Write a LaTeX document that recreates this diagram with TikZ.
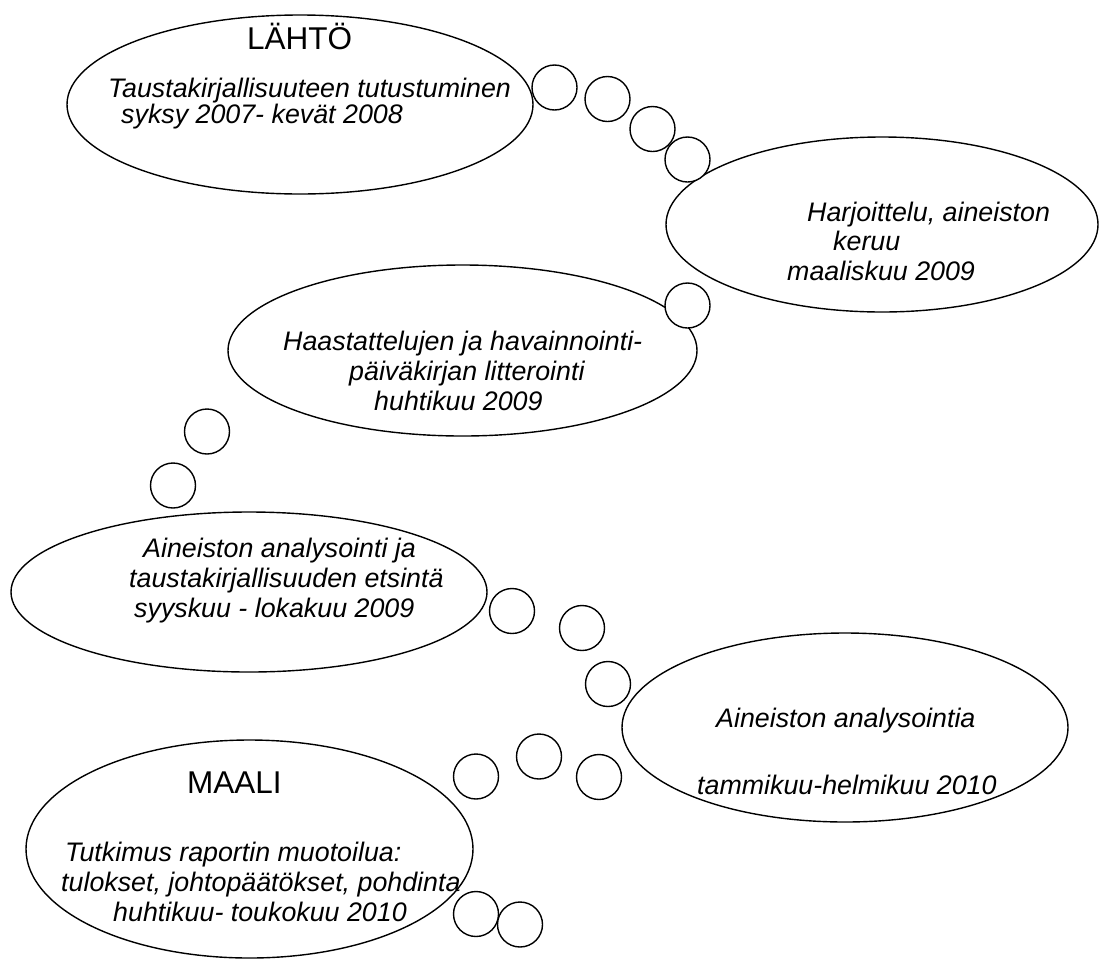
\documentclass[tikz,border=0pt]{standalone}
\usepackage{fontspec}
\setmainfont{Liberation Sans}
\usetikzlibrary{shapes.geometric}
\tikzset{
  cloudshape/.style={ellipse, draw, line width=1.4pt, fill=white, inner sep=0pt},
  puff/.style={ellipse, draw, line width=1.4pt, fill=white, inner sep=0pt,
    minimum width=45pt, minimum height=45pt},
  txt/.style={anchor=base west, inner sep=0pt, font=\fontsize{26.8}{30}\selectfont\itshape},
  bigtxt/.style={anchor=base west, inner sep=0pt, font=\fontsize{31.5}{36}\selectfont},
}
\begin{document}
\begin{tikzpicture}[x=1pt,y=-1pt]
\useasboundingbox (0,0) rectangle (1099,959);
% main ellipses
\node[cloudshape, minimum width=466pt, minimum height=179pt] (e1) at (300,104.5) {};
\node[cloudshape, minimum width=432pt, minimum height=175pt] (e2) at (882,224.5) {};
\node[cloudshape, minimum width=469pt, minimum height=171pt] (e3) at (462.5,350.5) {};
\node[cloudshape, minimum width=476pt, minimum height=160pt] (e4) at (249,592) {};
\node[cloudshape, minimum width=446pt, minimum height=189pt] (e5) at (845,727.5) {};
\node[cloudshape, minimum width=447pt, minimum height=218pt] (e6) at (249.5,849) {};
% small bubbles
\node[puff] (c1) at (554.5,87.5) {};
\node[puff] (c2) at (607.5,99) {};
\node[puff] (c3) at (652.5,129) {};
\node[puff] (c4) at (687.5,159.5) {};
\node[puff] (c5) at (687.5,305.5) {};
\node[puff] (c6) at (207,431.5) {};
\node[puff] (c7) at (173,485.5) {};
\node[puff] (c8) at (512,611) {};
\node[puff] (c9) at (582,628) {};
\node[puff] (c10) at (608,684) {};
\node[puff] (c11) at (539,756.5) {};
\node[puff] (c12) at (476,776.5) {};
\node[puff] (c13) at (599,777) {};
\node[puff] (c14) at (476,914) {};
\node[puff] (c15) at (520,924.5) {};
% texts
\node[bigtxt] (t1a) at (247,49) {LÄHTÖ};
\node[txt] (t1b) at (108,97) {Taustakirjallisuuteen tutustuminen};
\node[txt] (t1c) at (121,123) {syksy 2007- kevät 2008};
\node[txt] (t2a) at (807,221) {Harjoittelu, aineiston};
\node[txt] (t2b) at (833,250) {keruu};
\node[txt] (t2c) at (787,280) {maaliskuu 2009};
\node[txt] (t3a) at (283,350) {Haastattelujen ja havainnointi-};
\node[txt] (t3b) at (349,380) {päiväkirjan litterointi};
\node[txt] (t3c) at (374,410) {huhtikuu 2009};
\node[txt] (t4a) at (143,557) {Aineiston analysointi ja};
\node[txt] (t4b) at (129,587) {taustakirjallisuuden etsintä};
\node[txt] (t4c) at (134,617) {syyskuu - lokakuu 2009};
\node[txt] (t5a) at (716,727) {Aineiston analysointia};
\node[txt] (t5b) at (697,794) {tammikuu-helmikuu 2010};
\node[bigtxt] (t6a) at (187,793) {MAALI};
\node[txt] (t6b) at (65,861) {Tutkimus raportin muotoilua:};
\node[txt] (t6c) at (61,891) {tulokset, johtopäätökset, pohdinta};
\node[txt] (t6d) at (113,921) {huhtikuu- toukokuu 2010};
\end{tikzpicture}
\end{document}
